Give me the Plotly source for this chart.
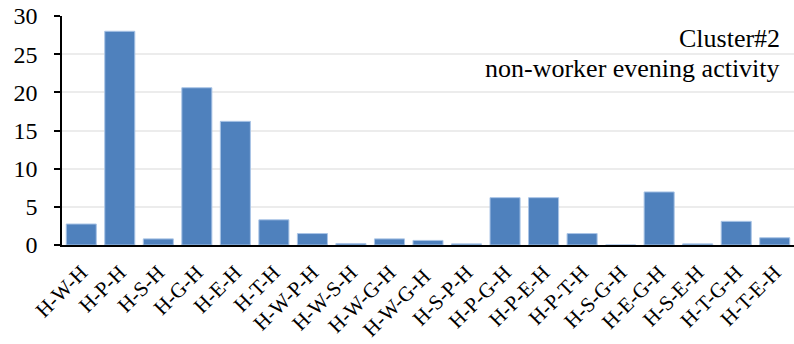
import plotly.graph_objects as go

categories = ["H-W-H", "H-P-H", "H-S-H", "H-G-H", "H-E-H", "H-T-H", "H-W-P-H", "H-W-S-H",
              "H-W-G-H", "H-W-G-H ", "H-S-P-H", "H-P-G-H", "H-P-E-H", "H-P-T-H", "H-S-G-H",
              "H-E-G-H", "H-S-E-H", "H-T-G-H", "H-T-E-H"]
values = [2.75, 28.0, 0.8, 20.6, 16.2, 3.3, 1.5, 0.2, 0.8, 0.6, 0.15, 6.2, 6.2, 1.5, 0.0,
          6.95, 0.15, 3.1, 0.95]
y_ticks = [0, 5, 10, 15, 20, 25, 30]
title_lines = ["Cluster#2", "non-worker evening activity"]

font = "Liberation Serif, Times New Roman, serif"

fig = go.Figure(go.Bar(
    x=categories, y=values,
    marker=dict(color="#4f81bd", line=dict(color="#a9c4e6", width=1)),
    width=0.78,
))

fig.update_layout(
    width=794, height=344,
    margin=dict(l=62, r=0, t=16, b=99),
    paper_bgcolor="white", plot_bgcolor="white",
    font=dict(family=font, size=21, color="black"),
    showlegend=False,
)
fig.update_xaxes(
    tickangle=-45, showline=True, linecolor="black", linewidth=2,
    ticks="", tickfont=dict(family=font, size=21, color="black"),
    range=[-0.5, len(categories) - 0.5], automargin=False, ticklabelstandoff=5,
    ticklabeloverflow="allow",
)
fig.update_yaxes(
    range=[0, 30], tickvals=y_ticks, showgrid=True, gridcolor="#ececec", gridwidth=1.5,
    showline=True, linecolor="black", linewidth=1.5, ticks="outside", ticklen=6,
    tickcolor="black", tickwidth=1.5, tickfont=dict(family=font, size=24, color="black"),
    zeroline=False, automargin=False, ticklabelstandoff=12, ticklabeloverflow="allow",
)
fig.add_annotation(
    xref="paper", yref="paper", x=0.984, y=0.90, xanchor="right", yanchor="middle",
    text=title_lines[0], showarrow=False, align="right",
    font=dict(family=font, size=26, color="black"),
)
fig.add_annotation(
    xref="paper", yref="paper", x=0.984, y=0.772, xanchor="right", yanchor="middle",
    text=title_lines[1], showarrow=False, align="right",
    font=dict(family=font, size=26, color="black"),
)
fig.write_html(
    "out.html",
    config={"displayModeBar": False},
    post_script="document.body.style.margin='0';document.body.style.overflow='hidden';",
)
